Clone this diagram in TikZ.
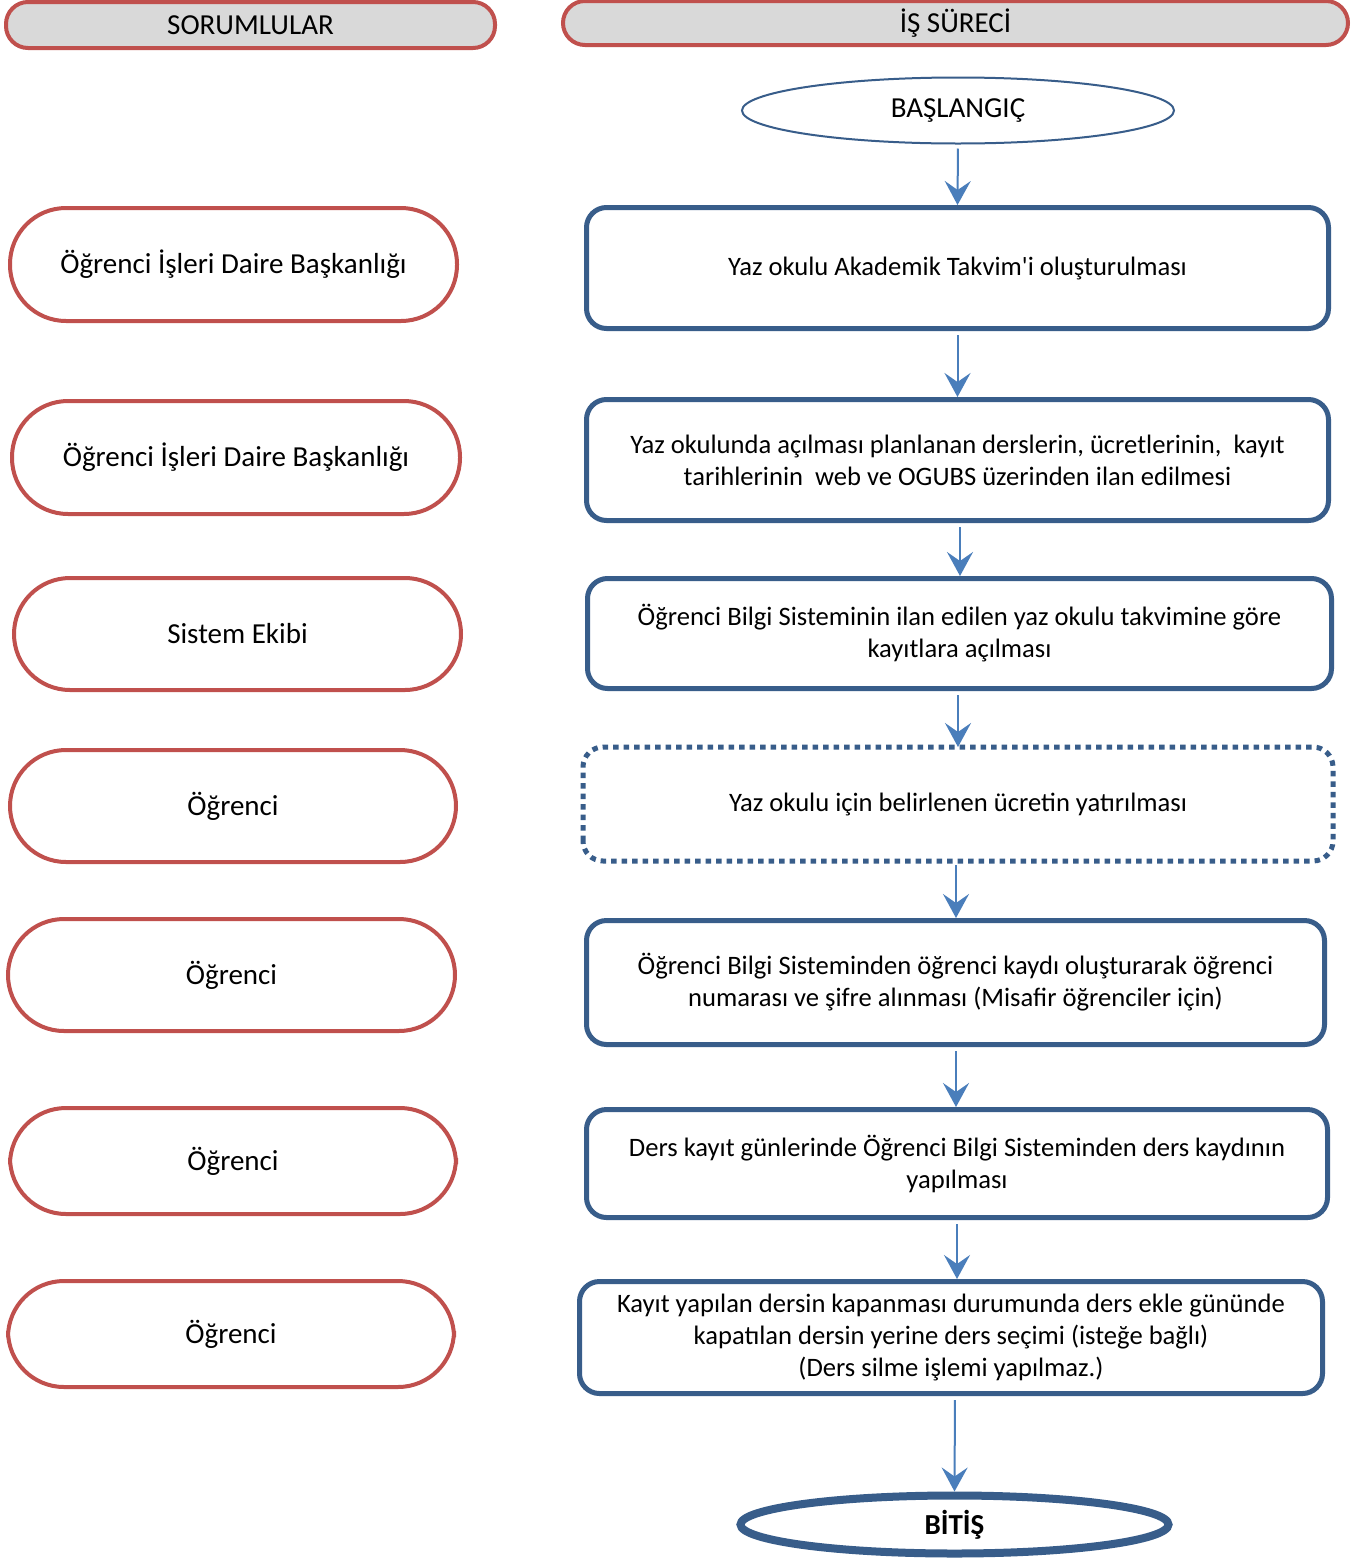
\documentclass[tikz,border=0pt]{standalone}
\usepackage{fontspec}
\setmainfont{Carlito}[Ligatures=TeXOff]
\usetikzlibrary{arrows.meta,shapes.geometric}
\definecolor{redc}{HTML}{C0504D}
\definecolor{bluec}{HTML}{385D8A}
\definecolor{arrc}{HTML}{4A7EBB}
\definecolor{hdrc}{HTML}{D9D9D9}
\begin{document}
\begin{tikzpicture}[x=1pt,y=-1pt,
  hdr/.style={draw=redc,fill=hdrc,line width=4pt,rounded corners=22pt,font=\fontsize{29}{34}\selectfont,inner sep=0pt},
  resp/.style={draw=redc,fill=white,line width=4pt,rounded corners=56pt,font=\fontsize{29}{34}\selectfont,inner sep=0pt},
  proc/.style={draw=bluec,fill=white,line width=5pt,rounded corners=20pt,font=\fontsize{26.6}{32}\selectfont,align=center,inner sep=0pt},
  term/.style={draw=bluec,fill=white,ellipse,inner sep=0pt,font=\fontsize{29}{34}\selectfont},
  flow/.style={draw=arrc,line width=2pt,-{Stealth[length=24pt,width=26pt,inset=9pt]},shorten <=4pt}
]
\useasboundingbox (0,0) rectangle (1351,1559);
\fill[white] (0,0) rectangle (1351,1559);
% headers
\node[hdr,minimum width=489pt,minimum height=46pt] (h1) at (250.5,25) {SORUMLULAR};
\node[hdr,minimum width=785pt,minimum height=44pt] (h2) at (955.5,23) {İŞ SÜRECİ};
% start
\node[term,line width=2pt,minimum width=432pt,minimum height=66pt] (start) at (958,110.5) {BAŞLANGIÇ};
% process boxes
\node[proc,minimum width=742pt,minimum height=121pt] (p1) at (957.5,268) {Yaz okulu Akademik Takvim'i oluşturulması};
\node[proc,minimum width=742pt,minimum height=121pt] (p2) at (957.5,460) {Yaz okulunda açılması planlanan derslerin, ücretlerinin,\ \ kayıt\\tarihlerinin\ \ web ve OGUBS üzerinden ilan edilmesi};
\node[proc,minimum width=744pt,minimum height=110pt] (p3) at (959.5,633.5) {Öğrenci Bilgi Sisteminin ilan edilen yaz okulu takvimine göre\\kayıtlara açılması};
\node[proc,draw=none,minimum width=745pt,minimum height=109pt] (p4) at (958,804) {Yaz okulu için belirlenen ücretin yatırılması};
\draw[bluec,line width=5pt,dash pattern=on 5.5pt off 5pt,rounded corners=20pt] (p4.south west) rectangle (p4.north east);
\node[proc,minimum width=738pt,minimum height=124pt] (p5) at (955.5,982.5) {Öğrenci Bilgi Sisteminden öğrenci kaydı oluşturarak öğrenci\\numarası ve şifre alınması (Misafir öğrenciler için)};
\node[proc,minimum width=741pt,minimum height=108pt] (p6) at (957,1163.5) {Ders kayıt günlerinde Öğrenci Bilgi Sisteminden ders kaydının\\yapılması};
\node[proc,minimum width=743pt,minimum height=112pt] (p7) at (951,1337.5) {Kayıt yapılan dersin kapanması durumunda ders ekle gününde\\kapatılan dersin yerine ders seçimi (isteğe bağlı)\\(Ders silme işlemi yapılmaz.)};
% end
\node[term,line width=8pt,minimum width=428pt,minimum height=58pt,font=\fontsize{29}{34}\selectfont\bfseries] (end) at (954.5,1524.5) {BİTİŞ};
% responsibles
\node[resp,minimum width=447pt,minimum height=113pt] (r1) at (233.5,264.5) {Öğrenci İşleri Daire Başkanlığı};
\node[resp,minimum width=448pt,minimum height=113pt] (r2) at (236,457.5) {Öğrenci İşleri Daire Başkanlığı};
\node[resp,minimum width=447pt,minimum height=112pt] (r3) at (237.5,634) {Sistem Ekibi};
\node[resp,minimum width=446pt,minimum height=112pt] (r4) at (233,806) {Öğrenci};
\node[resp,minimum width=447pt,minimum height=112pt] (r5) at (231.5,975) {Öğrenci};
\node[resp,minimum width=446pt,minimum height=106pt] (r6) at (233,1161) {Öğrenci};
\node[resp,minimum width=446pt,minimum height=106pt] (r7) at (231,1334) {Öğrenci};
% connectors
\draw[flow] (start.south) -- (p1.north);
\draw[flow] (p1.south) -- (p2.north);
\draw[flow] ([xshift=2.5pt]p2.south) -- ([xshift=0.5pt]p3.north);
\draw[flow] ([xshift=-1.5pt]p3.south) -- (p4.north);
\draw[flow] ([xshift=-2pt]p4.south) -- ([xshift=0.5pt]p5.north);
\draw[flow] ([xshift=0.5pt]p5.south) -- ([xshift=-1pt]p6.north);
\draw[flow] (p6.south) -- ([xshift=6pt]p7.north);
\draw[flow] ([xshift=4pt]p7.south) -- (end.north);
\end{tikzpicture}
\end{document}
